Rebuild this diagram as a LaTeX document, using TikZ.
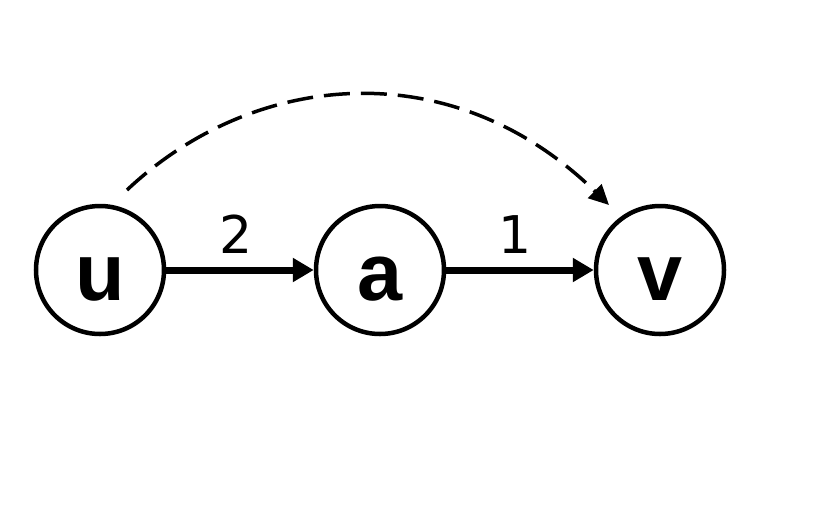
\documentclass[tikz,border=0pt]{standalone}
\usepackage{fontspec}
\setmainfont{Liberation Sans}
\newfontfamily\digitfont{DejaVu Sans}
\usetikzlibrary{arrows.meta}
\begin{document}
\begin{tikzpicture}[x=1pt,y=-1pt,
  vertex/.style={circle,draw,line width=4.5pt,minimum size=128pt,inner sep=0pt,
    text height=60pt,text depth=0pt,font=\fontsize{81}{81}\selectfont\bfseries},
  edge/.style={line width=7pt,-{Triangle[length=21pt,width=23pt]}},
  weight/.style={anchor=base,font=\digitfont\fontsize{52}{52}\selectfont},
  hop/.style={line width=3.5pt,dash pattern=on 26pt off 11pt,-{Triangle[length=20pt,width=19pt]}}]
\useasboundingbox (0,0) rectangle (814,504);
\node[vertex] (u) at (100,270) {u};
\node[vertex] (a) at (380,270) {a};
\node[vertex] (v) at (660,270) {v};
\draw[edge] (u) -- (a);
\draw[edge] (a) -- (v);
\node[weight] (w1) at (236,253) {2};
\node[weight] (w2) at (515,253) {1};
\coordinate (s) at (127,190);
\coordinate (t) at (609,205);
\draw[hop] (s) .. controls (252,72) and (450,50) .. (t);
\end{tikzpicture}
\end{document}
